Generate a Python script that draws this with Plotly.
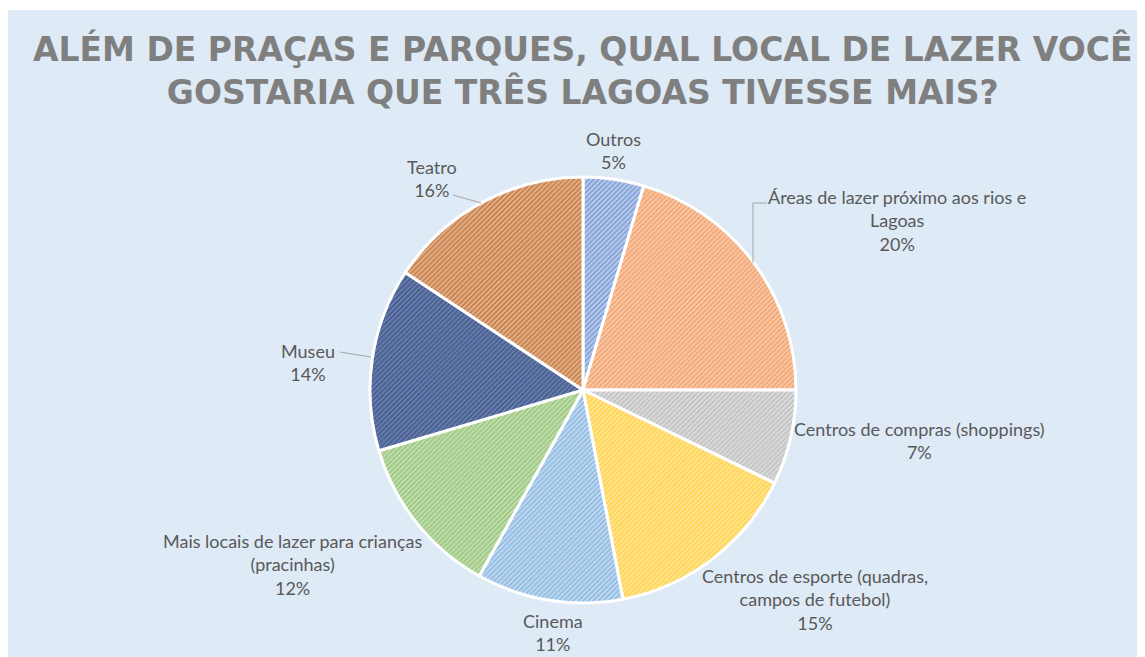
import plotly.graph_objects as go

# Data
categories = ["Outros", "Áreas de lazer próximo aos rios e Lagoas", "Centros de compras (shoppings)",
              "Centros de esporte (quadras, campos de futebol)", "Cinema",
              "Mais locais de lazer para crianças (pracinhas)", "Museu", "Teatro"]
label_lines = ["Outros", "Áreas de lazer próximo aos rios e<br>Lagoas", "Centros de compras (shoppings)",
               "Centros de esporte (quadras,<br>campos de futebol)", "Cinema",
               "Mais locais de lazer para crianças<br>(pracinhas)", "Museu", "Teatro"]
values = [4.6, 20.4, 7.2, 14.8, 11.1, 12.3, 13.9, 15.7]

base_colors = ["#4472C4", "#ED7D31", "#A5A5A5", "#FFC000", "#5B9BD5", "#70AD47", "#203864", "#9E480E"]
light_colors = ["#BCCDEB", "#F8CBAD", "#DDDDDD", "#FFE699", "#C3DAF0", "#C5E0B4", "#6A80B2", "#E8B48A"]

W, H = 1145, 657
OFF = 8  # page body margin
def px(x): return (x - OFF) / W
def py(y): return 1 - (y - OFF) / H

cx, cy, r = 583, 390, 213

fig = go.Figure()
fig.add_trace(go.Pie(
    labels=categories, values=values, sort=False, direction="clockwise", rotation=0,
    textinfo="none", hoverinfo="label+percent",
    marker=dict(colors=light_colors, line=dict(color="white", width=3),
                pattern=dict(shape="/", fgcolor=base_colors, fillmode="overlay", size=3.5, solidity=0.5)),
    domain=dict(x=[px(cx - r), px(cx + r)], y=[py(cy + r), py(cy - r)]),
    showlegend=False,
))

# label positions (pixels in screenshot)
label_pos = [(613, 151), (897, 220), (919, 440), (815, 599), (553, 632), (292, 564), (308, 362), (432, 178)]
total = sum(values)
for txt, v, (x, y) in zip(label_lines, values, label_pos):
    pct = round(v / total * 100)
    fig.add_annotation(x=px(x), y=py(y), xref="paper", yref="paper", showarrow=False,
                       text=f"{txt}<br>{pct}%", xanchor="center", yanchor="middle", align="center",
                       font=dict(family="Lato, Open Sans, sans-serif", size=18, color="#595959"))

# title
fig.add_annotation(x=px(583), y=py(71), xref="paper", yref="paper", showarrow=False,
                   text="ALÉM DE PRAÇAS E PARQUES, QUAL LOCAL DE LAZER VOCÊ<br>GOSTARIA QUE TRÊS LAGOAS TIVESSE MAIS?",
                   xanchor="center", yanchor="middle", align="center",
                   font=dict(family="DejaVu Sans, sans-serif", size=33, color="#7F7F7F", weight="bold"))

leader = dict(color="#A6A6A6", width=1)
shapes = [
    dict(type="rect", xref="paper", yref="paper", x0=0, x1=1, y0=py(10), y1=1,
         fillcolor="white", line=dict(width=0), layer="below"),
    dict(type="line", xref="paper", yref="paper", x0=px(767), y0=py(203), x1=px(753), y1=py(203), line=leader),
    dict(type="line", xref="paper", yref="paper", x0=px(753), y0=py(203), x1=px(753), y1=py(263), line=leader),
    dict(type="line", xref="paper", yref="paper", x0=px(453), y0=py(195), x1=px(481), y1=py(203), line=leader),
    dict(type="line", xref="paper", yref="paper", x0=px(340), y0=py(352), x1=px(371), y1=py(357), line=leader),
]

fig.update_layout(width=W, height=H, margin=dict(l=0, r=0, t=0, b=0),
                  paper_bgcolor="#DEEAF6", plot_bgcolor="#DEEAF6", shapes=shapes)

fig.write_html("out.html")
